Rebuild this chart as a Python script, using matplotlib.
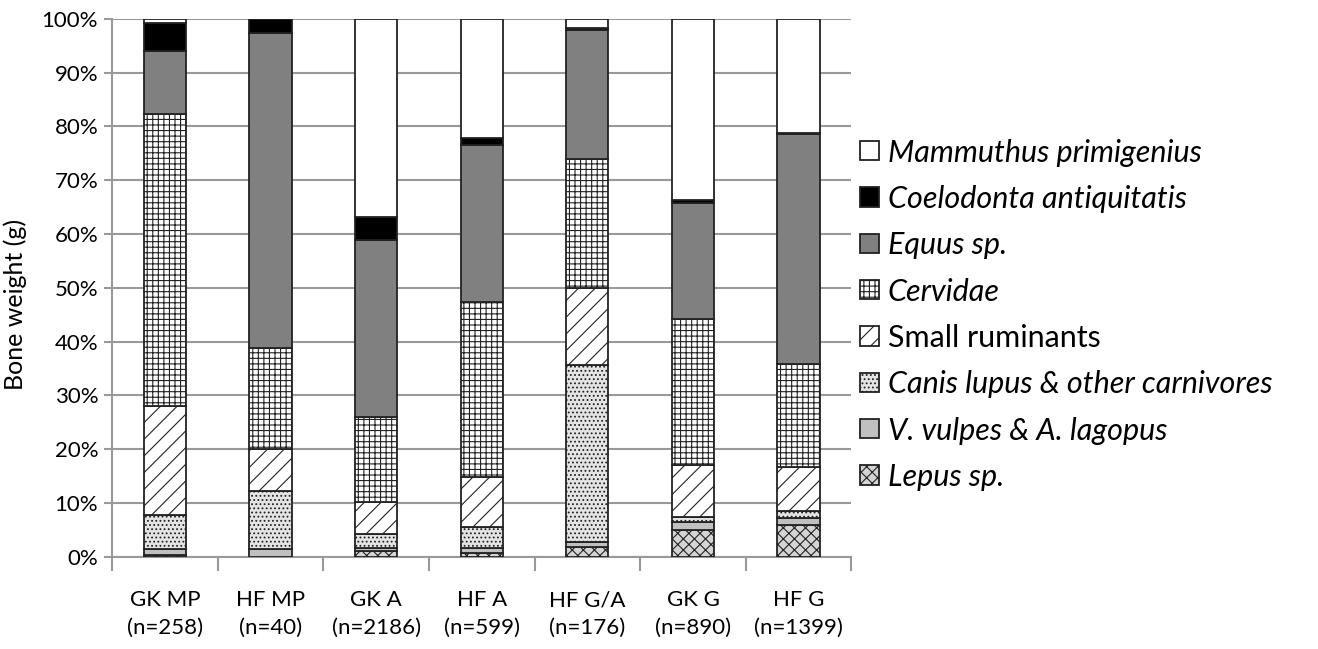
import matplotlib
matplotlib.use("Agg")
import matplotlib.pyplot as plt
import numpy as np

plt.rcParams['font.family'] = ['Lato', 'DejaVu Sans']
plt.rcParams['hatch.linewidth'] = 0.8

# categories (x axis)
sites = ["GK MP\n(n=258)", "HF MP\n(n=40)", "GK A\n(n=2186)", "HF A\n(n=599)",
         "HF G/A\n(n=176)", "GK G\n(n=890)", "HF G\n(n=1399)"]

# percentages of bone weight, stacked from bottom to top
lepus = [0.3, 0.0, 1.0, 0.7, 1.8, 4.9, 6.0]
vulpes = [1.2, 1.5, 0.6, 0.9, 0.9, 1.6, 1.2]
canis = [6.3, 10.7, 2.7, 3.9, 32.9, 0.9, 1.3]
small_rum = [20.2, 7.8, 5.9, 9.4, 14.4, 9.6, 8.2]
cervidae = [54.3, 18.8, 15.8, 32.4, 24.0, 27.2, 19.1]
equus = [11.7, 58.6, 32.8, 29.2, 24.0, 21.5, 42.7]
coelodonta = [5.3, 2.6, 4.4, 1.4, 0.3, 0.6, 0.3]
mammuthus = [0.7, 0.0, 36.8, 22.1, 1.7, 33.7, 21.2]

series = [
    ("Lepus sp.", lepus, "#d4d4d4", "xxx", True),
    ("V. vulpes & A. lagopus", vulpes, "#c0c0c0", None, True),
    ("Canis lupus & other carnivores", canis, "#e4e4e4", "....", True),
    ("Small ruminants", small_rum, "white", "//", False),
    ("Cervidae", cervidae, "white", "+++", True),
    ("Equus sp.", equus, "#808080", None, True),
    ("Coelodonta antiquitatis", coelodonta, "black", None, True),
    ("Mammuthus primigenius", mammuthus, "white", None, True),
]

fig = plt.figure(figsize=(13.18, 6.49), dpi=100)
ax = fig.add_axes([0.085, 0.142, 0.561, 0.829])

x = np.arange(len(sites))
bottom = np.zeros(len(sites))
handles = []
for name, vals, color, hatch, italic in series:
    vals = np.array(vals)
    b = ax.bar(x, vals, width=0.4, bottom=bottom, color=color, hatch=hatch,
               edgecolor="#222222", linewidth=1.3, label=name, zorder=3)
    handles.append(b)
    bottom += vals

ax.set_ylim(0, 100)
ax.set_xlim(-0.5, len(sites) - 0.5)
ax.set_yticks(np.arange(0, 101, 10))
ax.set_yticklabels([f"{v}%" for v in range(0, 101, 10)], fontsize=16)
ax.yaxis.grid(True, color="#999999", linewidth=1.5, zorder=0)
ax.tick_params(axis="y", length=6, color="#999999", width=1.5, pad=4)

ax.set_xticks(x)
ax.set_xticklabels(sites, fontsize=16, linespacing=1.45)
ax.set_xticks(np.arange(-0.5, len(sites), 1), minor=True)
ax.tick_params(axis="x", which="major", length=0, pad=24)
ax.tick_params(axis="x", which="minor", length=10, color="#999999", width=1.5)

for s in ["top", "right"]:
    ax.spines[s].set_visible(False)
for s in ["left", "bottom"]:
    ax.spines[s].set_color("#999999")
    ax.spines[s].set_linewidth(1.5)

ax.set_ylabel("Bone weight (g)", fontsize=18, labelpad=6)
ax.yaxis.set_label_coords(-0.115, 0.47)

leg = ax.legend(handles[::-1], [s[0] for s in series][::-1],
                loc="center left", bbox_to_anchor=(0.975, 0.45), frameon=False,
                fontsize=22, handlelength=0.6, handleheight=0.6,
                handletextpad=0.3, labelspacing=0.6)
for txt, s in zip(leg.get_texts(), series[::-1]):
    if s[4]:
        txt.set_fontstyle("italic")

fig.savefig("out.png", dpi=100)
